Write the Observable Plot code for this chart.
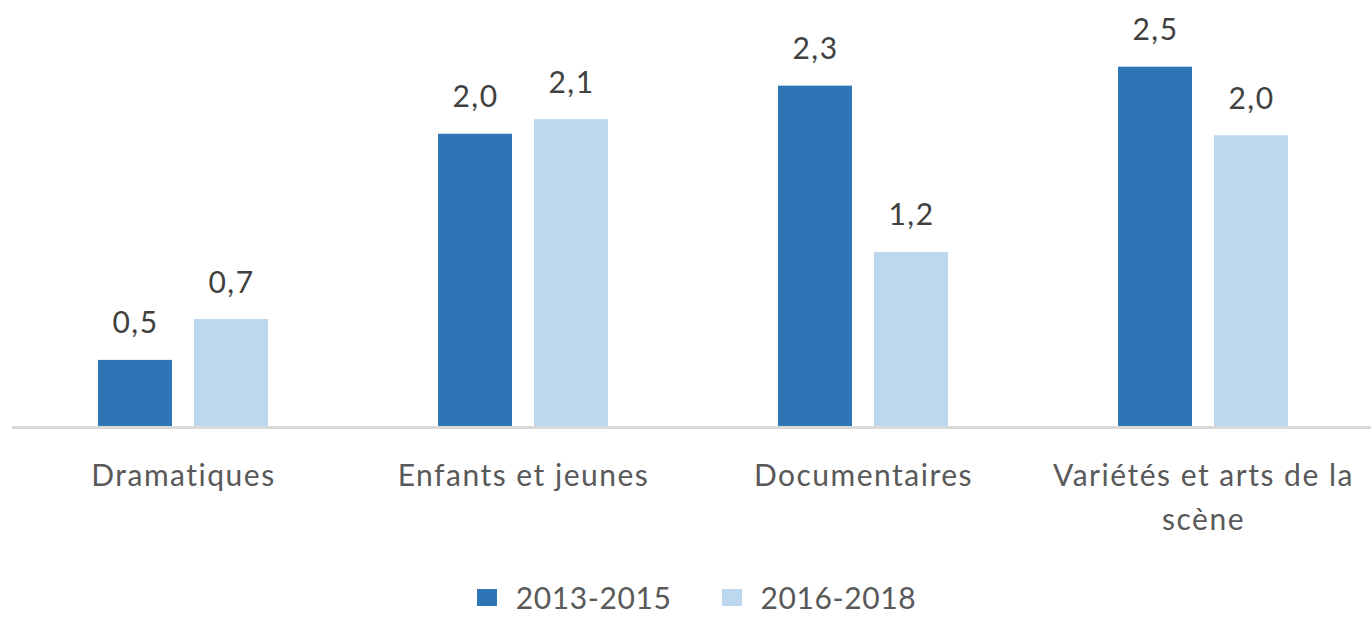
<!DOCTYPE html>
<html>
<head>
<meta charset="utf-8">
<script src="https://cdn.jsdelivr.net/npm/d3@7"></script>
<script src="https://cdn.jsdelivr.net/npm/@observablehq/plot@0.6"></script>
<style>
  html, body { margin: 0; padding: 0; background: #fff; }
  body { width: 1371px; height: 620px; overflow: hidden; font-family: Lato, "Open Sans", sans-serif; }
  #legend { display: flex; justify-content: center; align-items: center; margin-top: 14px; margin-left: 22px; font-size: 30px; color: #595959; letter-spacing: 0.6px; }
  #legend .item { display: flex; align-items: center; }
  #legend .sw { width: 20px; height: 17px; margin-right: 19px; }
  #legend .item + .item { margin-left: 50px; }
  #chart svg text { letter-spacing: 1.5px; }
</style>
</head>
<body>
<div id="chart"></div>
<div id="legend"></div>
<script>
const categories = ["Dramatiques", "Enfants et jeunes", "Documentaires", "Variétés et arts de la scène"];
const series = ["2013-2015", "2016-2018"];
const values2013_2015 = [0.46, 2.01, 2.34, 2.47];
const values2016_2018 = [0.74, 2.11, 1.20, 2.00];
const colors = ["#2E75B6", "#BDD7EE"];
const wrappedLabels = {"Variétés et arts de la scène": "Variétés et arts de la\nscène"};

const data = [];
categories.forEach((c, i) => {
  data.push({category: c, series: series[0], value: values2013_2015[i]});
  data.push({category: c, series: series[1], value: values2016_2018[i]});
});

const fmt = v => d3.format(".1f")(v).replace(".", ",");

const chart = Plot.plot({
  width: 1371,
  height: 565,
  marginTop: 20,
  marginBottom: 138,
  marginLeft: 13,
  marginRight: -2,
  style: {fontFamily: "Lato, 'Open Sans', sans-serif", fontSize: "30px", color: "#595959", background: "#fff", overflow: "visible"},
  fx: {domain: categories, padding: 0, label: null},
  x: {domain: series, paddingInner: 22 / 97, paddingOuter: 0.866, axis: null},
  y: {domain: [0, 2.79], axis: null},
  color: {domain: series, range: colors},
  marks: [
    Plot.barY(data, {fx: "category", x: "series", y: "value", fill: "series"}),
    Plot.text(data, {fx: "category", x: "series", y: "value", text: d => fmt(d.value), lineAnchor: "bottom", dy: -27, fill: "#404040", fontSize: 30}),
    Plot.ruleY([0], {stroke: "#D9D9D9", strokeWidth: 3, insetLeft: -1}),
    Plot.axisFx({anchor: "bottom", tickSize: 0, tickPadding: 28, fontSize: 30, lineHeight: 1.45, fill: "#595959", label: null,
      tickFormat: d => wrappedLabels[d] ?? d})
  ]
});
document.getElementById("chart").appendChild(chart);

const legend = document.getElementById("legend");
series.forEach((s, i) => {
  const item = document.createElement("div");
  item.className = "item";
  const sw = document.createElement("span");
  sw.className = "sw";
  sw.style.background = colors[i];
  const label = document.createElement("span");
  label.textContent = s;
  item.appendChild(sw);
  item.appendChild(label);
  legend.appendChild(item);
});
</script>
</body>
</html>
